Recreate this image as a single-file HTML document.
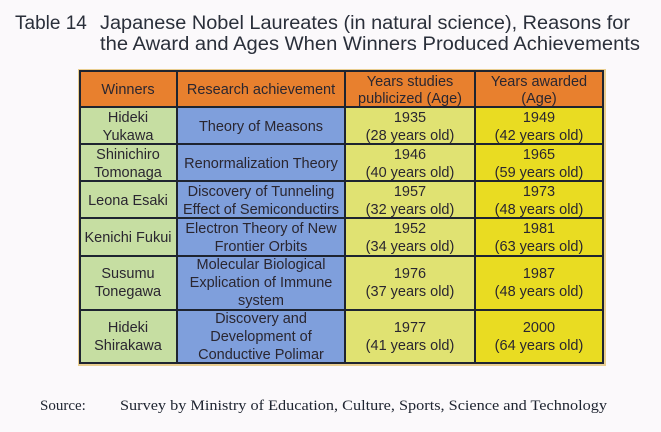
<!DOCTYPE html>
<html><head><meta charset="utf-8"><style>
html,body{margin:0;padding:0;background:#fbf9fb;}
svg{display:block;font-family:"Liberation Sans",Arial,sans-serif;}
</style></head><body>
<svg width="661" height="432" viewBox="0 0 661 432">
<rect width="661" height="432" fill="#fbf9fb"/>
<g fill="#2a2f3a" font-size="19">
<text x="15" y="29">Table 14</text>
<text x="100" y="29" textLength="530" lengthAdjust="spacingAndGlyphs">Japanese Nobel Laureates (in natural science), Reasons for</text>
<text x="100" y="50" textLength="540" lengthAdjust="spacingAndGlyphs">the Award and Ages When Winners Produced Achievements</text>
</g>
<g>
<rect x="78" y="69" width="528" height="297" fill="#e9ce90"/>
<!-- header -->
<rect x="80" y="71" width="523" height="36" fill="#e8802e"/>
<!-- columns fills -->
<rect x="80" y="107" width="97" height="256" fill="#c6dea2"/>
<rect x="177" y="107" width="168" height="256" fill="#7f9fdc"/>
<rect x="345" y="107" width="130" height="256" fill="#e0e272"/>
<rect x="475" y="107" width="128" height="256" fill="#e9dc22"/>
<g stroke="#1e2430" stroke-width="2" fill="none">
<rect x="80" y="71" width="523" height="292"/>
<line x1="80" y1="107" x2="603" y2="107"/>
<line x1="80" y1="144" x2="603" y2="144"/>
<line x1="80" y1="181" x2="603" y2="181"/>
<line x1="80" y1="218" x2="603" y2="218"/>
<line x1="80" y1="256" x2="603" y2="256"/>
<line x1="80" y1="310" x2="603" y2="310"/>
<line x1="177" y1="71" x2="177" y2="363"/>
<line x1="345" y1="71" x2="345" y2="363"/>
<line x1="475" y1="71" x2="475" y2="363"/>
</g>
<g fill="#2a2630" font-size="14.5" text-anchor="middle">
<text x="128" y="94">Winners</text>
<text x="261" y="94">Research achievement</text>
<text x="410" y="86">Years studies</text>
<text x="410" y="103">publicized (Age)</text>
<text x="539" y="86">Years awarded</text>
<text x="539" y="103">(Age)</text>

<text x="128" y="122">Hideki</text><text x="128" y="140">Yukawa</text>
<text x="261" y="131">Theory of Measons</text>
<text x="410" y="122">1935</text><text x="410" y="140">(28 years old)</text>
<text x="539" y="122">1949</text><text x="539" y="140">(42 years old)</text>

<text x="128" y="159">Shinichiro</text><text x="128" y="177">Tomonaga</text>
<text x="261" y="168">Renormalization Theory</text>
<text x="410" y="159">1946</text><text x="410" y="177">(40 years old)</text>
<text x="539" y="159">1965</text><text x="539" y="177">(59 years old)</text>

<text x="128" y="205">Leona Esaki</text>
<text x="261" y="196">Discovery of Tunneling</text><text x="261" y="214">Effect of Semiconductirs</text>
<text x="410" y="196">1957</text><text x="410" y="214">(32 years old)</text>
<text x="539" y="196">1973</text><text x="539" y="214">(48 years old)</text>

<text x="128" y="242">Kenichi Fukui</text>
<text x="261" y="233">Electron Theory of New</text><text x="261" y="251">Frontier Orbits</text>
<text x="410" y="233">1952</text><text x="410" y="251">(34 years old)</text>
<text x="539" y="233">1981</text><text x="539" y="251">(63 years old)</text>

<text x="128" y="278">Susumu</text><text x="128" y="296">Tonegawa</text>
<text x="261" y="269">Molecular Biological</text><text x="261" y="287">Explication of Immune</text><text x="261" y="305">system</text>
<text x="410" y="278">1976</text><text x="410" y="296">(37 years old)</text>
<text x="539" y="278">1987</text><text x="539" y="296">(48 years old)</text>

<text x="128" y="332">Hideki</text><text x="128" y="350">Shirakawa</text>
<text x="261" y="323">Discovery and</text><text x="261" y="341">Development of</text><text x="261" y="359">Conductive Polimar</text>
<text x="410" y="332">1977</text><text x="410" y="350">(41 years old)</text>
<text x="539" y="332">2000</text><text x="539" y="350">(64 years old)</text>
</g>
</g>
<g font-family="'Liberation Serif',serif" font-size="15" fill="#1e2430">
<text x="40" y="410">Source:</text>
<text x="120" y="410" textLength="487" lengthAdjust="spacingAndGlyphs">Survey by Ministry of Education, Culture, Sports, Science and Technology</text>
</g>
</svg>
</body></html>
